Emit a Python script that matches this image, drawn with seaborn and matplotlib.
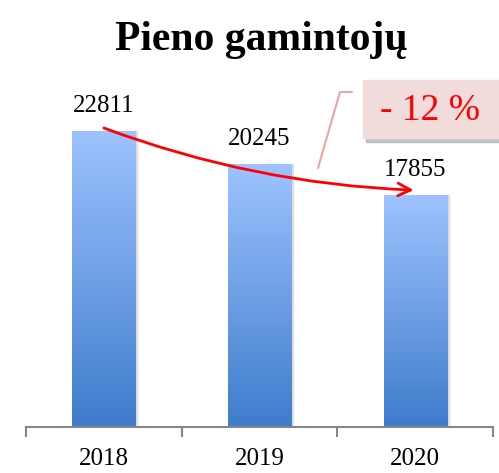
import numpy as np
import pandas as pd
import matplotlib
matplotlib.use("Agg")
import matplotlib.pyplot as plt
import seaborn as sns
from matplotlib.colors import LinearSegmentedColormap
from matplotlib.patches import Rectangle

# Duomenys
metai = ["2018", "2019", "2020"]
gamintojai = [22811, 20245, 17855]
pokytis = "- 12 %"
pavadinimas = "Pieno gamintojų"

sns.set_style("white")
plt.rcParams["font.family"] = ["Liberation Serif", "DejaVu Serif"]
plt.rcParams["text.color"] = "black"
plt.rcParams["xtick.color"] = "black"

W, H = 499, 473
fig = plt.figure(figsize=(W / 100, H / 100), dpi=100)
ax = fig.add_axes([26 / W, 46 / H, 467 / W, 324.5 / H])

df = pd.DataFrame({"Metai": metai, "Gamintojai": gamintojai})
sns.barplot(data=df, x="Metai", y="Gamintojai", ax=ax, width=0.405,
            color="#7fa9e8", saturation=1)

# gradientas ant stulpelių
cmap = LinearSegmentedColormap.from_list(
    "grad", [(62 / 255, 124 / 255, 204 / 255), (158 / 255, 195 / 255, 255 / 255)])
grad = np.linspace(0, 1, 256).reshape(-1, 1)
for p in ax.patches:
    x0, y0 = p.get_x(), p.get_y()
    w, h = p.get_width(), p.get_height()
    # šešėlis
    sh = Rectangle((x0 + w, y0), 0.012, h, color="#dedede", zorder=1)
    ax.add_patch(sh)
    im = ax.imshow(grad, cmap=cmap, origin="lower", aspect="auto",
                   extent=[x0, x0 + w, y0, y0 + h], zorder=2)
    im.set_clip_path(p)
    p.set_edgecolor("none")
ax.set_xlim(-0.5, 2.5)
ax.set_ylim(0, 25000)

for i, v in enumerate(gamintojai):
    ax.annotate(str(v), (i, v), xytext=(0, 10), textcoords="offset points",
                ha="center", va="bottom", fontsize=18, color="black")

# ašys
for s in ["left", "top", "right"]:
    ax.spines[s].set_visible(False)
ax.spines["bottom"].set_color("#868686")
ax.spines["bottom"].set_linewidth(1.5)
ax.set_yticks([])
ax.set_xlabel("")
ax.set_ylabel("")
ax.tick_params(axis="x", which="major", length=0, pad=15, labelsize=18,
               labelcolor="black")
ax.set_xticks([-0.5, 0.5, 1.5, 2.5], minor=True)
ax.tick_params(axis="x", which="minor", length=7, width=1.5, color="#868686",
               direction="out", bottom=True)

fig.text(261 / W, 1 - 40 / H, pavadinimas, ha="center", va="center",
         fontsize=30, fontweight="bold", color="black")

# raudona rodyklė
ax.annotate("", xy=(1.99, 18250), xytext=(0.0, 23035),
            arrowprops=dict(arrowstyle="->,head_length=0.9,head_width=0.45",
                            color="red", lw=2,
                            connectionstyle="arc3,rad=0.08",
                            shrinkA=0, shrinkB=0))

# pokyčio langelis
def fx(px):
    return px / W


def fy(py):
    return 1 - py / H


fig.patches.append(Rectangle((fx(366), fy(142)), fx(140), 58 / H,
                             transform=fig.transFigure, color="#a0a0a0",
                             alpha=0.6, zorder=3))
fig.patches.append(Rectangle((fx(363), fy(138)), fx(140), 58 / H,
                             transform=fig.transFigure, color="#f2dcdb",
                             zorder=4))
fig.text(fx(430), fy(111), pokytis, ha="center", va="center", fontsize=27,
         color="red", zorder=5)
fig.lines.append(plt.Line2D([fx(352), fx(340), fx(318)], [fy(92), fy(92), fy(168)],
                            transform=fig.transFigure, color="#eaa6a6", lw=1.5))

fig.savefig("out.png", dpi=100)
